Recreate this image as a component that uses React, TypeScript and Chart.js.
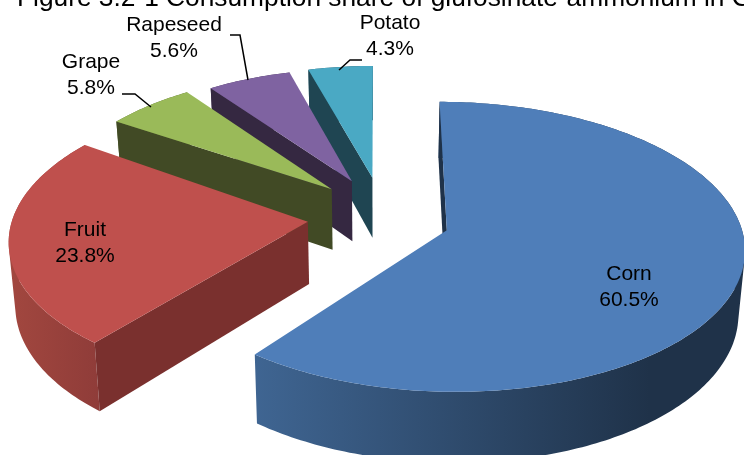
import React, { useEffect, useRef } from "react";
import { Chart, registerables } from "chart.js";

Chart.register(...registerables);

const categories = ["Corn", "Fruit", "Grape", "Rapeseed", "Potato"];
const shares = [60.5, 23.8, 5.8, 5.6, 4.3];
const shareLabels = ["60.5%", "23.8%", "5.8%", "5.6%", "4.3%"];
const titleText = "Figure 3.2-1 Consumption share of glufosinate-ammonium in China";

const explode = [25, 23.8, 22, 20.5, 12];
const lift = [0.293, 0.27, 0.29, 0.29, 0.29];
const radiusScale = [1, 1.01, 0.97, 0.94, 0.94];
const angleNudge = [0, 1.6, 0, 0, 0];
const topColors = ["#4f7eb9", "#bf504d", "#9aba59", "#7f63a1", "#4aa9c4"];
const wallColors = ["#1f3249", "#7a302e", "#414a25", "#352841", "#1f4552"];
const rimFrom = ["#3f6592", "#a2473f", "#5a6b33", "#4b3a5e", "#2a6070"];
const rimTo = ["#1f3249", "#8f3c39", "#414a25", "#352841", "#1f4552"];
const rimFromX = [255, 10, 116, 208, 307];
const rimToX = [650, 100, 330, 350, 372];
const labelX = [629, 85, 91, 174, 390];
const labelY = [274, 230, 62, 25, 23];
const leaders: number[][][] = [
  [],
  [],
  [[122, 94], [135, 94], [151, 107]],
  [[230, 35], [240, 35], [248, 80]],
  [[362, 60], [350, 60], [339, 70]],
];

const CX = 377, CY = 216.7, RX = 292, RY = 140, K = 0.114, DEPTH = 62, CONV = 0.982;

function project(x: number, y: number, low: boolean): [number, number] {
  const w = 1 - K * y;
  let sx = CX + (RX * x) / w;
  let sy = CY + (RY * y) / w;
  if (low) {
    sx = CX + (sx - CX) * CONV;
    sy += DEPTH / w;
  }
  return [sx, sy];
}

function tracePoly(ctx: CanvasRenderingContext2D, pts: [number, number][]) {
  pts.forEach((p, i) => (i ? ctx.lineTo(p[0], p[1]) : ctx.moveTo(p[0], p[1])));
  ctx.closePath();
}

function fillPoly(ctx: CanvasRenderingContext2D, pts: [number, number][], fill: string | CanvasGradient) {
  ctx.beginPath();
  tracePoly(ctx, pts);
  ctx.fillStyle = fill;
  ctx.fill();
}

function signedArea(pts: [number, number][]) {
  let a = 0;
  pts.forEach((p, i) => {
    const q = pts[(i + 1) % pts.length];
    a += p[0] * q[1] - q[0] * p[1];
  });
  return a;
}

const piePlugin = {
  id: "pie3d",
  beforeDatasetDraw(chart: any) {
    const ctx: CanvasRenderingContext2D = chart.ctx;
    const arcs = chart.getDatasetMeta(0).data;
    for (let i = arcs.length - 1; i >= 0; i--) {
      const arc = arcs[i];
      const props = arc.getProps(["startAngle", "endAngle"], true);
      const nudge = (angleNudge[i] * Math.PI) / 180;
      const startAngle = props.startAngle + nudge;
      const endAngle = props.endAngle + nudge;
      const e = arc.options.offset / 100;
      const mid = (startAngle + endAngle) / 2;
      const ox = Math.cos(mid) * e;
      const oy = Math.sin(mid) * lift[i];
      const r = radiusScale[i];
      const steps = Math.max(12, Math.round((endAngle - startAngle) * 60));
      const top: [number, number][] = [];
      const low: [number, number][] = [];
      for (let s = 0; s <= steps; s++) {
        const a = startAngle + ((endAngle - startAngle) * s) / steps;
        const x = ox + r * Math.cos(a);
        const y = oy + r * Math.sin(a);
        top.push(project(x, y, false));
        low.push(project(x, y, true));
      }
      const apexTop = project(ox, oy, false);
      const apexLow = project(ox, oy, true);
      const grad = ctx.createLinearGradient(rimFromX[i], 0, rimToX[i], 0);
      grad.addColorStop(0, rimFrom[i]);
      grad.addColorStop(1, rimTo[i]);
      ctx.beginPath();
      for (let s = 0; s < steps; s++) {
        const quad: [number, number][] = [top[s], top[s + 1], low[s + 1], low[s]];
        tracePoly(ctx, signedArea(quad) < 0 ? quad.reverse() : quad);
      }
      ctx.fillStyle = grad;
      ctx.fill();
      fillPoly(ctx, [apexTop, top[0], low[0], apexLow], wallColors[i]);
      fillPoly(ctx, [apexTop, ...top], topColors[i]);
    }
    return false;
  },
  afterDatasetsDraw(chart: any) {
    const ctx: CanvasRenderingContext2D = chart.ctx;
    ctx.save();
    ctx.fillStyle = "#000";
    ctx.textAlign = "center";
    ctx.textBaseline = "middle";
    ctx.font = "21px 'Liberation Sans', Arial, sans-serif";
    categories.forEach((c, i) => {
      ctx.fillText(c, labelX[i], labelY[i]);
      ctx.fillText(shareLabels[i], labelX[i], labelY[i] + 26);
      const l = leaders[i];
      if (l.length) {
        ctx.beginPath();
        l.forEach((p, j) => (j ? ctx.lineTo(p[0], p[1]) : ctx.moveTo(p[0], p[1])));
        ctx.strokeStyle = "#000";
        ctx.lineWidth = 1.5;
        ctx.stroke();
      }
    });
    ctx.textAlign = "left";
    ctx.textBaseline = "alphabetic";
    ctx.font = "26.3px 'Liberation Sans', Arial, sans-serif";
    ctx.fillText(titleText, 17, 6);
    ctx.restore();
  },
};

export default function App() {
  const ref = useRef<HTMLCanvasElement>(null);
  useEffect(() => {
    document.body.style.margin = "0";
    const chart = new Chart(ref.current as HTMLCanvasElement, {
      type: "pie",
      data: {
        labels: categories,
        datasets: [{ data: shares, backgroundColor: topColors, offset: explode, borderWidth: 0 }],
      },
      options: {
        responsive: false,
        animation: false,
        rotation: 0,
        layout: { padding: 0 },
        plugins: { legend: { display: false }, tooltip: { enabled: false }, title: { display: false } },
      },
      plugins: [piePlugin],
    } as any);
    return () => chart.destroy();
  }, []);
  return (
    <div style={{ position: "absolute", left: 0, top: 0, width: 744, height: 455, overflow: "hidden", background: "#fff" }}>
      <canvas ref={ref} width={744} height={455} style={{ display: "block" }} />
    </div>
  );
}
